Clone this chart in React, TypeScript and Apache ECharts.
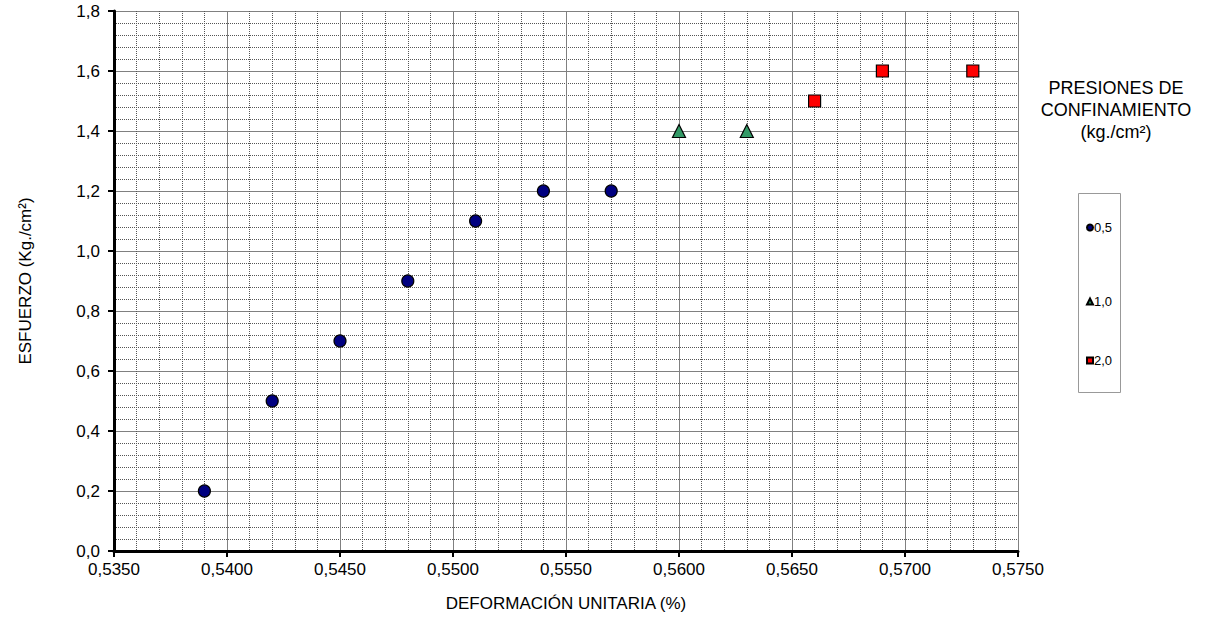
import React, { useEffect, useRef } from "react";
import * as echarts from "echarts";

const seriesNames = ["0,5", "1,0", "2,0"];
const x05 = [0.539, 0.542, 0.545, 0.548, 0.551, 0.554, 0.557];
const y05 = [0.2, 0.5, 0.7, 0.9, 1.1, 1.2, 1.2];
const x10 = [0.56, 0.563];
const y10 = [1.4, 1.4];
const x20 = [0.566, 0.569, 0.573];
const y20 = [1.5, 1.6, 1.6];

const FONT = "Liberation Sans, Arial, sans-serif";

export default function App() {
  const ref = useRef<HTMLDivElement>(null);
  useEffect(() => {
    if (!ref.current) return;
    const chart = echarts.init(ref.current, undefined, { renderer: "svg" });
    const pair = (xs: number[], ys: number[]) => xs.map((x, i) => [x, ys[i]]);
    const legendCommon = {
      orient: "vertical" as const,
      itemWidth: 6,
      itemHeight: 6,
      itemGap: 0,
      padding: 0,
      textStyle: { fontSize: 13, fontFamily: FONT, color: "#000", padding: [0, 0, 0, -4] },
    };
    chart.setOption({
      animation: false,
      backgroundColor: "#fff",
      textStyle: { fontFamily: FONT },
      grid: { left: 114, right: 201, top: 11, bottom: 67 },
      xAxis: {
        type: "value",
        min: 0.535,
        max: 0.575,
        interval: 0.005,
        name: "DEFORMACIÓN UNITARIA (%)",
        nameLocation: "middle",
        nameGap: 44,
        nameTextStyle: { fontSize: 17, fontFamily: FONT, color: "#000" },
        axisLine: { lineStyle: { color: "#000", width: 3 } },
        axisTick: { show: true, length: 6, lineStyle: { color: "#000", width: 2 } },
        axisLabel: {
          fontSize: 17,
          color: "#000",
          fontFamily: FONT,
          margin: 10,
          formatter: (v: number) => v.toFixed(4).replace(".", ","),
        },
        splitLine: { show: true, lineStyle: { color: "#808080", width: 1 } },
        minorTick: { show: false, splitNumber: 5 },
        minorSplitLine: { show: true, lineStyle: { color: "#555", width: 1, type: [1, 1] } },
      },
      yAxis: {
        type: "value",
        min: 0,
        max: 1.8,
        interval: 0.2,
        name: "ESFUERZO (Kg./cm²)",
        nameLocation: "middle",
        nameGap: 80,
        nameRotate: 90,
        nameTextStyle: { fontSize: 17, fontFamily: FONT, color: "#000" },
        axisLine: { show: true, lineStyle: { color: "#000", width: 3 } },
        axisTick: { show: true, length: 6, lineStyle: { color: "#000", width: 2 } },
        axisLabel: {
          fontSize: 17,
          color: "#000",
          fontFamily: FONT,
          margin: 14,
          formatter: (v: number) => v.toFixed(1).replace(".", ","),
        },
        splitLine: { show: true, lineStyle: { color: "#808080", width: 1 } },
        minorTick: { show: false, splitNumber: 5 },
        minorSplitLine: { show: true, lineStyle: { color: "#555", width: 1, type: [1, 1] } },
      },
      legend: [
        { ...legendCommon, left: 1086, top: 221, data: [{ name: seriesNames[0], icon: "circle" }] },
        { ...legendCommon, left: 1086, top: 295, data: [{ name: seriesNames[1], icon: "triangle" }] },
        { ...legendCommon, left: 1086, top: 354, data: [{ name: seriesNames[2], icon: "rect" }] },
      ],
      graphic: [
        {
          type: "rect",
          shape: { x: 1078.5, y: 193.5, width: 42, height: 199 },
          style: { fill: "none", stroke: "#999", lineWidth: 1 },
          silent: true,
        },
        {
          type: "text",
          x: 1116,
          y: 77,
          style: {
            text: "PRESIONES DE\nCONFINAMIENTO\n(kg./cm²)",
            fontSize: 18,
            lineHeight: 22,
            fontFamily: FONT,
            fill: "#000",
            align: "center",
          },
        },
      ],
      series: [
        {
          name: seriesNames[0],
          type: "scatter",
          symbol: "circle",
          symbolSize: 12,
          itemStyle: { color: "#000080", borderColor: "#000", borderWidth: 1.2, opacity: 1 },
          data: pair(x05, y05),
        },
        {
          name: seriesNames[1],
          type: "scatter",
          symbol: "triangle",
          symbolSize: 13,
          itemStyle: { color: "#339966", borderColor: "#000", borderWidth: 1.2, opacity: 1 },
          data: pair(x10, y10),
        },
        {
          name: seriesNames[2],
          type: "scatter",
          symbol: "rect",
          symbolSize: 12,
          itemStyle: { color: "#ff0000", borderColor: "#000", borderWidth: 1.2, opacity: 1 },
          data: pair(x20, y20),
        },
      ],
    });
    return () => chart.dispose();
  }, []);
  return <div ref={ref} style={{ width: 1219, height: 618, position: "absolute", left: 0, top: 0 }} />;
}
